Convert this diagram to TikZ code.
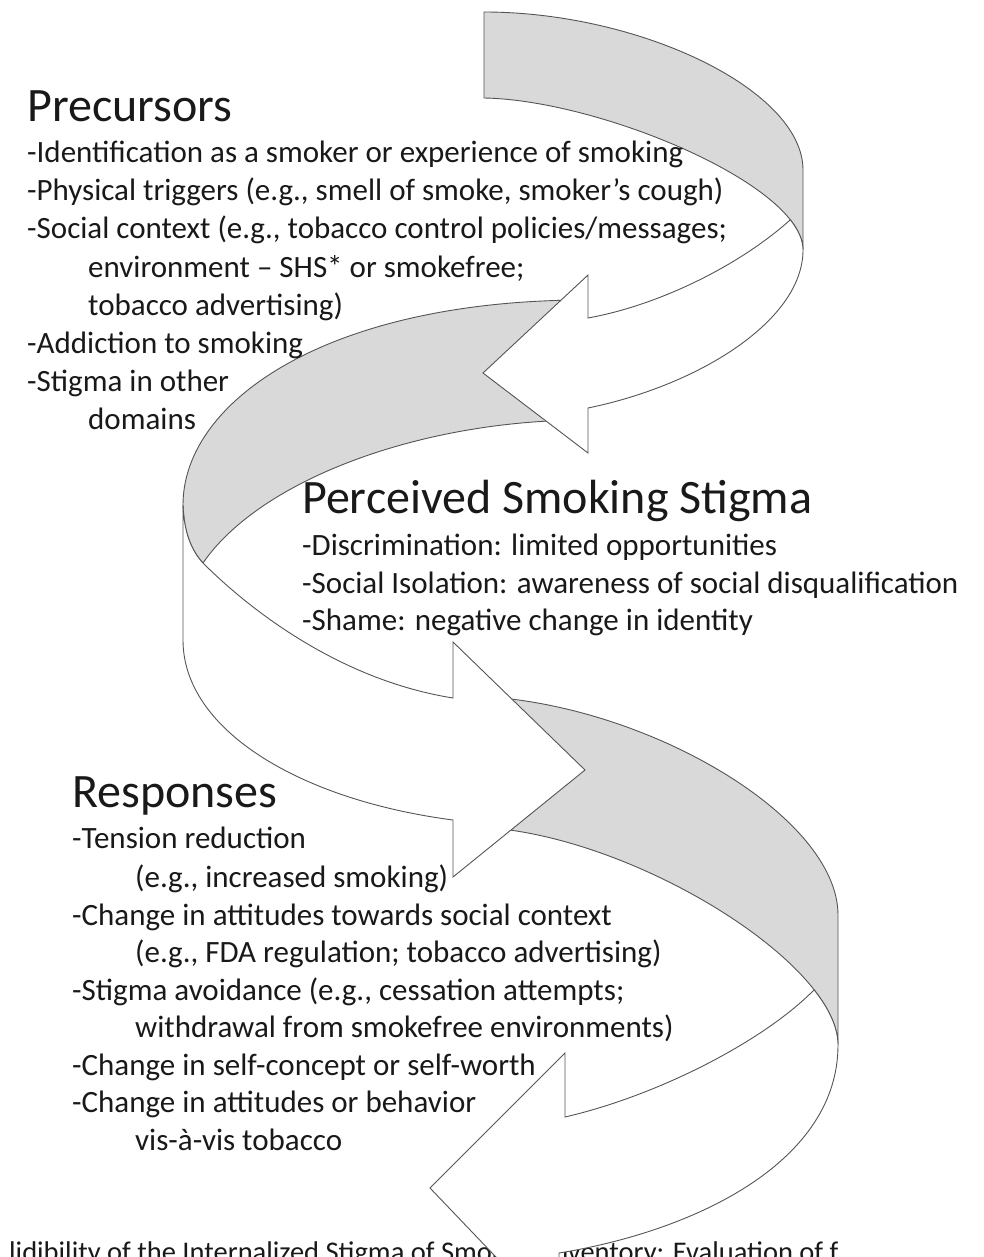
\documentclass[tikz,border=0pt]{standalone}
\usepackage{fontspec}
\setmainfont{Carlito}
\definecolor{bandgray}{RGB}{217,217,217}
\definecolor{edge}{RGB}{85,85,85}
\definecolor{ink}{RGB}{25,25,25}
\tikzset{
  band/.style={fill=bandgray, draw=edge, line width=0.9pt},
  front/.style={fill=white, draw=edge, line width=0.9pt},
  body/.style={anchor=base west, inner sep=0pt, text=ink, font=\fontsize{31}{37}\selectfont},
  head/.style={anchor=base west, inner sep=0pt, text=ink, font=\fontsize{48}{56}\selectfont},
  capt/.style={anchor=base west, inner sep=0pt, text=ink, font=\fontsize{28.5}{34}\selectfont},
}
\begin{document}
\begin{tikzpicture}[x=1pt,y=-1pt]
\clip (0,0) rectangle (983,1257);
\fill[white] (0,0) rectangle (983,1257);

% clipped caption line at the bottom
\node[capt] (cap) at (9,1261) {lidibility of the Internalized Stigma of Smoking Inventory: Evaluation of f};

% ---- segment 3 (bottom, right) ----
\path[band] (470,696) .. controls (640,700) and (838,815) .. (838,915) -- (838,1045)
  .. controls (838,960) and (620,828) .. (470,827) -- cycle;
\path[front] (814.1,989.8) .. controls (765,1040) and (660,1095) .. (565,1117)
  -- (565,1053) -- (430,1188) -- (559,1323) -- (559,1253)
  .. controls (700,1230) and (838,1160) .. (838,1045)
  .. controls (838,1028) and (829.3,1009.1) .. (814.1,989.8) -- cycle;

% ---- segment 2 (middle, left) ----
\path[band] (586,300) .. controls (330,300) and (183,400) .. (183,505)
  .. controls (184,532) and (191,550) .. (203,563)
  .. controls (260,480) and (420,420) .. (586,420) -- cycle;
\path[front] (183,640) -- (183,505) .. controls (184,532) and (191,550) .. (203,563)
  .. controls (250,610) and (340,680) .. (453,698)
  -- (453,642) -- (585,770) -- (453,877) -- (453,820)
  .. controls (300,800) and (183,730) .. (183,640) -- cycle;

% ---- segment 1 (top, right) ----
\path[band] (484,12) .. controls (640,12) and (803,90) .. (803,170) -- (803,250)
  .. controls (803,185) and (600,100) .. (484,98) -- cycle;
\path[front] (790.3,219.8) .. controls (740,265) and (660,305) .. (588,318)
  -- (588,275) -- (483,373) -- (588,453) -- (588,408)
  .. controls (700,385) and (803,320) .. (803,250)
  .. controls (803,240.25) and (798.43,230.05) .. (790.3,219.8) -- cycle;

% ---- Precursors ----
\node[head] (ph) at (27,122) {Precursors};
\node[body] (p1) at (27,163) {-Identification as a smoker or experience of smoking};
\node[body] (p2) at (27,201) {-Physical triggers (e.g., smell of smoke, smoker’s cough)};
\node[body] (p3) at (27,239) {-Social context (e.g., tobacco control policies/messages;};
\node[body] (p4) at (88,277) {environment – SHS* or smokefree;};
\node[body] (p5) at (88,315) {tobacco advertising)};
\node[body] (p6) at (27,353) {-Addiction to smoking};
\node[body] (p7) at (27,391) {-Stigma in other};
\node[body] (p8) at (88,429) {domains};

% ---- Perceived Smoking Stigma ----
\node[head] (sh) at (302,513) {Perceived Smoking Stigma};
\node[body] (s1) at (302,555) {-Discrimination: limited opportunities};
\node[body] (s2) at (302,593) {-Social Isolation: awareness of social disqualification};
\node[body] (s3) at (302,630) {-Shame: negative change in identity};

% ---- Responses ----
\node[head] (rh) at (72,807) {Responses};
\node[body] (r1) at (72,848) {-Tension reduction};
\node[body] (r2) at (135,887) {(e.g., increased smoking)};
\node[body] (r3) at (72,925) {-Change in attitudes towards social context};
\node[body] (r4) at (135,962) {(e.g., FDA regulation; tobacco advertising)};
\node[body] (r5) at (72,1000) {-Stigma avoidance (e.g., cessation attempts;};
\node[body] (r6) at (135,1037) {withdrawal from smokefree environments)};
\node[body] (r7) at (72,1075) {-Change in self-concept or self-worth};
\node[body] (r8) at (72,1112) {-Change in attitudes or behavior};
\node[body] (r9) at (135,1150) {vis-à-vis tobacco};
\end{tikzpicture}
\end{document}
